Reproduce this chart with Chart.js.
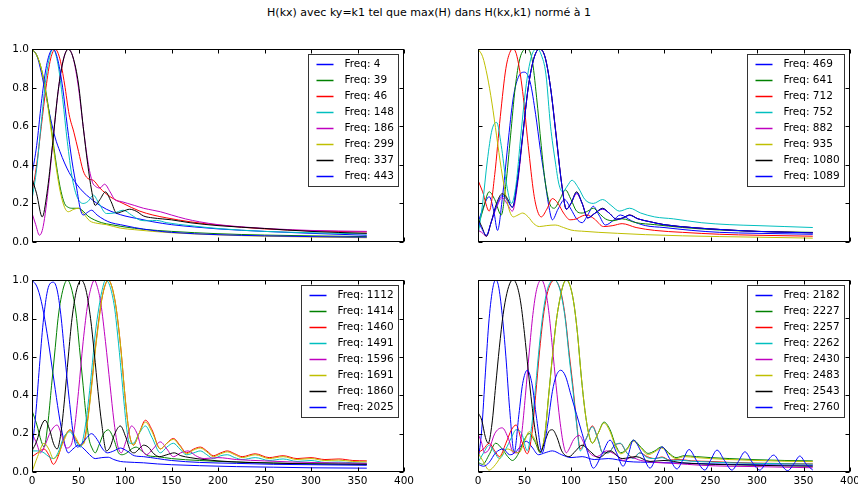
<!DOCTYPE html>
<html>
<head>
<meta charset="utf-8">
<script src="https://cdn.jsdelivr.net/npm/chart.js@4.4.1/dist/chart.umd.min.js"></script>
<style>
  body { margin: 0; width: 858px; height: 488px; overflow: hidden; background: #fff; position: relative; font-family: "DejaVu Sans", sans-serif; }
  canvas { position: absolute; }
  #title { position: absolute; left: 0; top: 6px; width: 858px; text-align: center; font-size: 11px; line-height: 13px; color: #000; }
</style>
</head>
<body>
<div id="title">H(kx) avec ky=k1 tel que max(H) dans H(kx,k1) normé à 1</div>
<canvas id="tl" width="412" height="222" style="left:0px;top:40px"></canvas>
<canvas id="tr" width="390" height="222" style="left:470px;top:40px"></canvas>
<canvas id="bl" width="418" height="222" style="left:0px;top:271px"></canvas>
<canvas id="br" width="395" height="222" style="left:470px;top:271px"></canvas>
<script>
// matplotlib classic colour cycle b g r c m y k b
const lineColors = ['#0000ff', '#008000', '#ff0000', '#00bfbf', '#bf00bf', '#bfbf00', '#000000', '#0000ff']
const xTicks = [0, 50, 100, 150, 200, 250, 300, 350, 400]
const yTicks = [0, 0.2, 0.4, 0.6, 0.8, 1.0]

// top left
const tlFreqs = [4, 39, 46, 148, 186, 299, 337, 443]
const tl4x = [0, 5, 10, 15, 20, 25, 30, 35, 40, 48, 55, 62, 70, 80, 90, 100, 115, 130, 150, 175, 200, 250, 300, 360]
const tl4y = [1.0, 0.97, 0.88, 0.76, 0.64, 0.54, 0.47, 0.41, 0.36, 0.30, 0.26, 0.23, 0.20, 0.17, 0.15, 0.135, 0.12, 0.105, 0.09, 0.078, 0.068, 0.055, 0.045, 0.035]
const tl39x = [0, 5, 10, 15, 20, 25, 30, 35, 39, 44, 50, 55, 60, 67, 75, 85, 100, 120, 150, 200, 250, 300, 360]
const tl39y = [1.0, 0.97, 0.9, 0.78, 0.62, 0.44, 0.29, 0.2, 0.18, 0.175, 0.175, 0.16, 0.135, 0.115, 0.1, 0.09, 0.078, 0.066, 0.055, 0.043, 0.036, 0.032, 0.028]
const tl46x = [0, 5, 10, 15, 20, 25, 30, 35, 40, 45, 50, 55, 60, 66, 73, 84, 98, 116, 130, 145, 170, 200, 250, 300, 360]
const tl46y = [0.25, 0.4, 0.6, 0.8, 0.95, 1.0, 0.95, 0.82, 0.66, 0.57, 0.47, 0.37, 0.33, 0.32, 0.28, 0.235, 0.2, 0.16, 0.14, 0.125, 0.105, 0.088, 0.068, 0.058, 0.052]
const tl148x = [0, 5, 10, 15, 20, 23, 28, 33, 38, 43, 48, 55, 60, 66, 72, 80, 88, 98, 107, 116, 125, 134, 145, 170, 200, 250, 300, 360]
const tl148y = [0.22, 0.38, 0.62, 0.85, 0.98, 1.0, 0.92, 0.74, 0.52, 0.34, 0.24, 0.2, 0.21, 0.243, 0.2, 0.148, 0.15, 0.165, 0.14, 0.114, 0.11, 0.112, 0.1, 0.085, 0.07, 0.055, 0.048, 0.042]
const tl186x = [0, 4, 8, 12, 18, 24, 30, 35, 39, 44, 50, 55, 60, 65, 68, 73, 78, 84, 89, 96, 103, 110, 120, 130, 138, 150, 165, 180, 200, 230, 260, 300, 360]
const tl186y = [0.15, 0.09, 0.035, 0.08, 0.3, 0.6, 0.85, 0.97, 1.0, 0.96, 0.8, 0.6, 0.42, 0.31, 0.29, 0.28, 0.3, 0.26, 0.22, 0.21, 0.2, 0.19, 0.175, 0.165, 0.157, 0.14, 0.12, 0.105, 0.09, 0.077, 0.068, 0.06, 0.055]
const tl299x = [0, 5, 10, 15, 20, 25, 30, 35, 39, 45, 50, 55, 62, 70, 80, 95, 110, 130, 150, 200, 250, 300, 360]
const tl299y = [1.0, 0.97, 0.9, 0.77, 0.6, 0.42, 0.27, 0.18, 0.157, 0.17, 0.175, 0.15, 0.11, 0.097, 0.09, 0.072, 0.064, 0.055, 0.048, 0.037, 0.03, 0.026, 0.022]
const tl337x = [0, 5, 11, 16, 22, 28, 34, 39, 44, 50, 55, 60, 64, 68, 73, 79, 85, 91, 98, 105, 112, 120, 130, 140, 150, 170, 200, 250, 300, 360]
const tl337y = [0.33, 0.25, 0.13, 0.25, 0.5, 0.78, 0.95, 1.0, 0.96, 0.82, 0.6, 0.4, 0.27, 0.19, 0.22, 0.26, 0.21, 0.15, 0.16, 0.17, 0.16, 0.135, 0.125, 0.12, 0.115, 0.1, 0.085, 0.07, 0.055, 0.045]
const tl443x = [0, 5, 10, 15, 20, 23, 28, 33, 38, 43, 48, 52, 55, 60, 64, 70, 78, 85, 95, 110, 130, 150, 200, 250, 300, 360]
const tl443y = [0.35, 0.5, 0.72, 0.9, 0.99, 1.0, 0.94, 0.8, 0.6, 0.42, 0.28, 0.17, 0.14, 0.155, 0.165, 0.14, 0.115, 0.1, 0.09, 0.075, 0.06, 0.05, 0.038, 0.032, 0.028, 0.025]

// top right
const trFreqs = [469, 641, 712, 752, 882, 935, 1080, 1089]
const tr469x = [0, 5, 12, 17, 21, 26, 32, 38, 44, 50, 56, 62, 67, 72, 76, 80, 86, 93, 100, 106, 112, 118, 124, 130, 137, 145, 153, 165, 180, 200, 230, 260, 300, 360]
const tr469y = [0.1, 0.17, 0.235, 0.16, 0.06, 0.22, 0.5, 0.75, 0.86, 0.88, 0.83, 0.66, 0.48, 0.32, 0.19, 0.115, 0.17, 0.22, 0.17, 0.12, 0.1, 0.14, 0.185, 0.14, 0.088, 0.11, 0.14, 0.11, 0.085, 0.075, 0.06, 0.05, 0.045, 0.04]
const tr641x = [0, 5, 12, 18, 25, 30, 35, 40, 45, 52, 58, 63, 68, 72, 77, 82, 88, 94, 100, 106, 112, 118, 124, 130, 137, 145, 155, 170, 190, 220, 260, 300, 360]
const tr641y = [0.08, 0.16, 0.26, 0.22, 0.14, 0.3, 0.55, 0.8, 0.95, 1.0, 0.95, 0.75, 0.5, 0.32, 0.2, 0.175, 0.22, 0.27, 0.22, 0.16, 0.15, 0.16, 0.175, 0.15, 0.12, 0.11, 0.12, 0.1, 0.09, 0.075, 0.062, 0.055, 0.05]
const tr712x = [0, 5, 12, 18, 24, 30, 35, 38, 42, 48, 54, 60, 64, 68, 74, 80, 86, 92, 99, 106, 112, 117, 125, 135, 145, 155, 170, 190, 220, 260, 300, 360]
const tr712y = [0.32, 0.26, 0.16, 0.35, 0.65, 0.9, 0.99, 1.0, 0.96, 0.78, 0.5, 0.25, 0.16, 0.13, 0.17, 0.225, 0.2, 0.15, 0.115, 0.12, 0.135, 0.14, 0.12, 0.08, 0.085, 0.095, 0.075, 0.06, 0.05, 0.04, 0.035, 0.03]
const tr752x = [0, 5, 10, 15, 20, 25, 30, 36, 41, 46, 52, 58, 64, 68, 73, 78, 83, 87, 91, 96, 101, 108, 115, 124, 134, 143, 152, 163, 175, 190, 210, 240, 270, 300, 330, 360]
const tr752y = [0.03, 0.2, 0.42, 0.58, 0.62, 0.5, 0.32, 0.2, 0.3, 0.55, 0.82, 0.97, 1.0, 0.97, 0.87, 0.6, 0.42, 0.3, 0.26, 0.29, 0.32, 0.28, 0.22, 0.2, 0.22, 0.19, 0.16, 0.175, 0.15, 0.13, 0.12, 0.1, 0.09, 0.085, 0.08, 0.075]
const tr882x = [0, 4, 9, 14, 20, 26, 31, 37, 42, 48, 54, 60, 66, 72, 78, 84, 90, 95, 100, 106, 112, 118, 126, 134, 141, 149, 156, 163, 172, 185, 200, 230, 260, 300, 360]
const tr882y = [0.06, 0.05, 0.03, 0.1, 0.18, 0.23, 0.2, 0.16, 0.28, 0.54, 0.8, 0.95, 1.0, 0.96, 0.8, 0.56, 0.3, 0.17, 0.2, 0.25, 0.2, 0.125, 0.15, 0.17, 0.15, 0.118, 0.125, 0.14, 0.12, 0.105, 0.09, 0.075, 0.065, 0.055, 0.048]
const tr935x = [0, 5, 10, 15, 20, 25, 30, 34, 38, 43, 48, 54, 60, 66, 74, 83, 92, 100, 115, 130, 150, 180, 220, 260, 300, 360]
const tr935y = [1.0, 0.96, 0.86, 0.72, 0.55, 0.38, 0.24, 0.16, 0.13, 0.14, 0.15, 0.13, 0.095, 0.08, 0.085, 0.088, 0.075, 0.062, 0.055, 0.05, 0.045, 0.038, 0.032, 0.028, 0.025, 0.02]
const tr1080x = [0, 4, 9, 14, 20, 26, 31, 37, 42, 48, 54, 60, 66, 72, 78, 84, 90, 95, 100, 106, 112, 118, 126, 134, 141, 149, 156, 163, 172, 185, 200, 230, 260, 300, 360]
const tr1080y = [0.12, 0.08, 0.03, 0.1, 0.2, 0.25, 0.23, 0.18, 0.3, 0.55, 0.8, 0.95, 1.0, 0.96, 0.8, 0.55, 0.3, 0.17, 0.2, 0.26, 0.2, 0.125, 0.15, 0.175, 0.15, 0.118, 0.125, 0.14, 0.12, 0.105, 0.09, 0.075, 0.065, 0.055, 0.048]
const tr1089x = [0, 4, 9, 14, 20, 26, 31, 37, 42, 48, 54, 60, 66, 72, 78, 84, 90, 95, 100, 106, 112, 118, 126, 134, 141, 149, 156, 163, 172, 185, 200, 230, 260, 300, 360]
const tr1089y = [0.11, 0.07, 0.035, 0.1, 0.19, 0.24, 0.22, 0.18, 0.3, 0.55, 0.8, 0.95, 1.0, 0.96, 0.8, 0.55, 0.3, 0.17, 0.2, 0.255, 0.2, 0.125, 0.15, 0.172, 0.15, 0.118, 0.125, 0.138, 0.12, 0.105, 0.09, 0.075, 0.065, 0.055, 0.047]

// bottom left
const blFreqs = [1112, 1414, 1460, 1491, 1596, 1691, 1860, 2025]
const bl1112x = [0, 5, 10, 15, 20, 25, 30, 35, 39, 44, 50, 56, 62, 68, 75, 82, 88, 95, 102, 110, 120, 135, 150, 180, 220, 260, 300, 360]
const bl1112y = [1.0, 0.97, 0.89, 0.76, 0.6, 0.43, 0.27, 0.15, 0.1, 0.12, 0.14, 0.12, 0.09, 0.07, 0.075, 0.077, 0.065, 0.055, 0.052, 0.05, 0.048, 0.042, 0.038, 0.033, 0.028, 0.025, 0.022, 0.02]
const bl1414x = [0, 5, 10, 13, 17, 21, 25, 28, 31, 35, 38, 41, 45, 48, 51, 55, 58, 61, 65, 68, 72, 77, 82, 88, 93, 97, 102, 107, 112, 118, 125, 135, 150, 180, 220, 260, 300, 360]
const bl1414y = [0.32, 0.25, 0.16, 0.13, 0.25, 0.45, 0.65, 0.8, 0.9, 0.98, 1.0, 0.98, 0.9, 0.8, 0.65, 0.45, 0.3, 0.18, 0.12, 0.1, 0.14, 0.2, 0.22, 0.17, 0.1, 0.09, 0.1, 0.12, 0.13, 0.11, 0.085, 0.08, 0.07, 0.06, 0.052, 0.047, 0.043, 0.04]
const bl1460x = [0, 6, 13, 18, 23, 28, 34, 41, 47, 52, 56, 60, 64, 68, 72, 75, 79, 82, 85, 89, 92, 96, 99, 102, 105, 109, 115, 122, 129, 138, 145, 152, 159, 166, 174, 181, 188, 195, 203, 210, 218, 226, 240, 255, 270, 285, 300, 315, 330, 345, 360]
const bl1460y = [0.08, 0.1, 0.12, 0.09, 0.04, 0.08, 0.17, 0.22, 0.17, 0.14, 0.16, 0.28, 0.45, 0.64, 0.8, 0.9, 0.98, 1.0, 0.98, 0.9, 0.8, 0.62, 0.45, 0.3, 0.19, 0.14, 0.2, 0.27, 0.22, 0.12, 0.15, 0.175, 0.14, 0.1, 0.12, 0.13, 0.11, 0.085, 0.1, 0.11, 0.095, 0.08, 0.095, 0.075, 0.085, 0.07, 0.075, 0.065, 0.068, 0.06, 0.058]
const bl1491x = [0, 6, 13, 18, 23, 28, 34, 41, 47, 52, 56, 60, 64, 68, 72, 75, 79, 82, 85, 89, 92, 96, 99, 102, 105, 109, 115, 122, 129, 138, 145, 152, 159, 166, 174, 181, 188, 195, 203, 210, 218, 226, 240, 255, 270, 285, 300, 315, 330, 345, 360]
const bl1491y = [0.11, 0.11, 0.1, 0.08, 0.07, 0.1, 0.18, 0.21, 0.16, 0.13, 0.2, 0.34, 0.52, 0.72, 0.86, 0.94, 1.0, 0.99, 0.95, 0.85, 0.72, 0.52, 0.36, 0.22, 0.15, 0.15, 0.2, 0.24, 0.18, 0.1, 0.13, 0.15, 0.12, 0.09, 0.1, 0.11, 0.09, 0.07, 0.085, 0.09, 0.075, 0.065, 0.075, 0.06, 0.068, 0.055, 0.06, 0.05, 0.052, 0.048, 0.046]
const bl1596x = [0, 5, 9, 14, 20, 27, 32, 37, 42, 46, 50, 55, 60, 64, 67, 70, 74, 79, 84, 88, 92, 96, 101, 107, 113, 118, 123, 130, 138, 145, 152, 160, 168, 176, 185, 200, 220, 250, 280, 320, 360]
const bl1596y = [0.2, 0.15, 0.1, 0.14, 0.21, 0.245, 0.19, 0.125, 0.14, 0.24, 0.42, 0.68, 0.88, 0.97, 1.0, 0.97, 0.88, 0.68, 0.45, 0.27, 0.14, 0.1, 0.16, 0.24, 0.2, 0.12, 0.09, 0.12, 0.157, 0.12, 0.08, 0.1, 0.11, 0.085, 0.07, 0.075, 0.065, 0.058, 0.052, 0.048, 0.045]
const bl1691x = [0, 6, 13, 18, 23, 28, 34, 41, 47, 52, 56, 60, 64, 68, 72, 75, 79, 82, 85, 89, 92, 96, 99, 102, 105, 109, 115, 122, 129, 138, 145, 152, 159, 166, 174, 181, 188, 195, 203, 210, 218, 226, 240, 255, 270, 285, 300, 315, 330, 345, 360]
const bl1691y = [0.0, 0.08, 0.15, 0.12, 0.07, 0.09, 0.16, 0.22, 0.18, 0.14, 0.15, 0.27, 0.44, 0.63, 0.79, 0.9, 0.98, 1.0, 0.98, 0.9, 0.8, 0.62, 0.45, 0.3, 0.19, 0.14, 0.2, 0.26, 0.21, 0.12, 0.15, 0.17, 0.135, 0.095, 0.115, 0.125, 0.105, 0.08, 0.095, 0.105, 0.09, 0.075, 0.09, 0.07, 0.08, 0.065, 0.07, 0.06, 0.062, 0.055, 0.053]
const bl1860x = [0, 5, 10, 14, 19, 23, 27, 31, 35, 39, 43, 48, 53, 58, 63, 67, 71, 75, 80, 84, 89, 95, 101, 106, 110, 115, 120, 125, 131, 137, 145, 153, 160, 170, 185, 200, 230, 260, 300, 360]
const bl1860y = [0.11, 0.16, 0.24, 0.27, 0.22, 0.15, 0.12, 0.2, 0.38, 0.6, 0.8, 0.95, 1.0, 0.95, 0.8, 0.62, 0.42, 0.25, 0.11, 0.13, 0.2, 0.24, 0.18, 0.11, 0.1, 0.12, 0.14, 0.13, 0.095, 0.08, 0.09, 0.1, 0.085, 0.075, 0.065, 0.058, 0.05, 0.046, 0.042, 0.04]
const bl2025x = [0, 4, 8, 12, 16, 19, 23, 27, 31, 35, 40, 45, 49, 54, 59, 64, 70, 76, 81, 88, 95, 102, 110, 120, 135, 150, 180, 220, 260, 300, 360]
const bl2025y = [0.12, 0.3, 0.55, 0.78, 0.93, 0.98, 0.99, 0.95, 0.82, 0.62, 0.38, 0.18, 0.13, 0.15, 0.18, 0.2, 0.17, 0.12, 0.1, 0.11, 0.125, 0.11, 0.085, 0.08, 0.07, 0.06, 0.05, 0.045, 0.04, 0.038, 0.035]

// bottom right
const brFreqs = [2182, 2227, 2257, 2262, 2430, 2483, 2543, 2760]
const br2182x = [0, 4, 8, 12, 16, 19, 22, 26, 30, 34, 39, 45, 52, 58, 65, 72, 80, 90, 100, 112, 125, 140, 160, 190, 230, 270, 310, 360]
const br2182y = [0.05, 0.22, 0.52, 0.8, 0.96, 1.0, 0.97, 0.82, 0.6, 0.33, 0.1, 0.13, 0.16, 0.13, 0.09, 0.1, 0.11, 0.09, 0.075, 0.08, 0.065, 0.07, 0.055, 0.05, 0.045, 0.04, 0.037, 0.035]
const br2227x = [0, 5, 12, 19, 26, 32, 37, 44, 50, 55, 61, 67, 72, 76, 80, 84, 88, 92, 95, 99, 103, 107, 111, 115, 119, 123, 129, 135.5, 142, 148, 153.5, 160, 167, 175, 183, 190, 197.5, 205, 213, 222, 235, 250, 270, 300, 330, 360]
const br2227y = [0.05, 0.04, 0.09, 0.15, 0.12, 0.08, 0.06, 0.1, 0.17, 0.2, 0.16, 0.1, 0.2, 0.4, 0.6, 0.78, 0.9, 0.98, 1.0, 0.97, 0.88, 0.72, 0.5, 0.32, 0.2, 0.15, 0.2, 0.26, 0.22, 0.14, 0.1, 0.12, 0.166, 0.13, 0.097, 0.11, 0.131, 0.1, 0.075, 0.085, 0.08, 0.075, 0.07, 0.064, 0.06, 0.058]
const br2257x = [0, 6, 12, 18, 23, 30, 36, 41, 47, 53, 58, 62, 66, 70, 74, 78, 82, 86, 90, 94, 98, 102, 106, 110, 116, 123, 129, 134, 140, 147, 153, 160, 167, 174, 182, 190, 198, 206, 215, 230, 250, 270, 300, 330, 360]
const br2257y = [0.1, 0.12, 0.15, 0.11, 0.08, 0.15, 0.22, 0.245, 0.16, 0.095, 0.2, 0.4, 0.62, 0.8, 0.92, 0.98, 1.0, 0.98, 0.92, 0.8, 0.62, 0.45, 0.26, 0.12, 0.17, 0.24, 0.17, 0.1, 0.1, 0.14, 0.148, 0.1, 0.075, 0.1, 0.08, 0.07, 0.078, 0.062, 0.065, 0.058, 0.055, 0.05, 0.046, 0.044, 0.042]
const br2262x = [0, 6, 12, 18, 23, 30, 36, 41, 47, 53, 58, 62, 66, 70, 74, 78, 82, 86, 90, 94, 98, 102, 106, 110, 116, 123, 129, 134, 140, 147, 153, 160, 167, 174, 182, 190, 198, 206, 215, 230, 250, 270, 300, 330, 360]
const br2262y = [0.05, 0.1, 0.14, 0.1, 0.07, 0.12, 0.18, 0.22, 0.2, 0.11, 0.25, 0.45, 0.66, 0.83, 0.94, 0.99, 1.0, 0.98, 0.91, 0.79, 0.6, 0.43, 0.25, 0.11, 0.17, 0.235, 0.17, 0.1, 0.1, 0.14, 0.15, 0.1, 0.07, 0.1, 0.075, 0.07, 0.075, 0.06, 0.062, 0.056, 0.052, 0.048, 0.045, 0.043, 0.041]
const br2430x = [0, 4, 7, 12, 18, 26, 33, 38, 43, 47, 51, 55, 59, 63, 68, 72, 76, 80, 84, 88, 92, 95, 98, 103, 109, 114, 120, 128, 138, 148, 156, 165, 175, 190, 210, 240, 270, 300, 330, 360]
const br2430y = [0.2, 0.15, 0.1, 0.12, 0.2, 0.23, 0.17, 0.1, 0.1, 0.2, 0.4, 0.62, 0.82, 0.95, 1.0, 0.96, 0.84, 0.65, 0.45, 0.27, 0.14, 0.1, 0.12, 0.17, 0.19, 0.15, 0.1, 0.08, 0.11, 0.09, 0.06, 0.075, 0.06, 0.05, 0.045, 0.035, 0.03, 0.028, 0.025, 0.022]
const br2483x = [0, 5, 12, 19, 26, 32, 37, 44, 50, 55, 61, 67, 72, 76, 80, 84, 88, 92, 95, 99, 103, 107, 111, 115, 119, 123, 129, 135.5, 142, 148, 153.5, 160, 167, 175, 183, 190, 197.5, 205, 213, 222, 235, 250, 270, 300, 330, 360]
const br2483y = [0.1, 0.06, 0.01, 0.04, 0.09, 0.12, 0.11, 0.1, 0.16, 0.21, 0.17, 0.105, 0.2, 0.4, 0.6, 0.78, 0.9, 0.98, 1.0, 0.97, 0.88, 0.72, 0.5, 0.32, 0.2, 0.15, 0.2, 0.255, 0.21, 0.13, 0.095, 0.115, 0.16, 0.125, 0.09, 0.105, 0.125, 0.095, 0.07, 0.08, 0.075, 0.07, 0.065, 0.06, 0.056, 0.054]
const br2543x = [0, 4, 8, 11, 15, 19, 23, 27, 31, 35, 38, 42, 46, 50, 54, 58, 62, 67, 72, 76, 80, 85, 90, 98, 105, 112, 120, 130, 142, 155, 170, 185, 200, 220, 240, 270, 300, 330, 360]
const br2543y = [0.31, 0.27, 0.18, 0.15, 0.25, 0.45, 0.65, 0.82, 0.93, 0.99, 1.0, 0.97, 0.88, 0.72, 0.53, 0.35, 0.2, 0.105, 0.16, 0.21, 0.22, 0.18, 0.11, 0.08, 0.11, 0.14, 0.11, 0.075, 0.11, 0.07, 0.08, 0.055, 0.06, 0.048, 0.042, 0.038, 0.035, 0.032, 0.03]
const br2760x = [0, 6, 12, 19, 27, 34, 39, 44, 48, 53, 58, 63, 69, 75, 80, 84, 89, 94, 100, 106, 112, 118, 124, 133, 142, 149, 156, 161, 167, 176, 185, 191, 198, 206, 214, 220, 227, 235, 244, 250, 257, 265, 273, 280, 287, 295, 303, 310, 318, 325, 333, 340, 346, 353, 360]
const br2760y = [0.04, 0.03, 0.05, 0.1, 0.12, 0.09, 0.1, 0.3, 0.46, 0.53, 0.46, 0.28, 0.1, 0.25, 0.42, 0.5, 0.53, 0.5, 0.4, 0.3, 0.2, 0.1, 0.02, 0.09, 0.166, 0.1, 0.03, 0.08, 0.166, 0.1, 0.02, 0.07, 0.131, 0.07, 0.016, 0.06, 0.117, 0.06, 0.01, 0.06, 0.114, 0.06, 0.01, 0.055, 0.105, 0.05, 0.01, 0.05, 0.088, 0.045, 0.007, 0.045, 0.083, 0.04, 0.01]

const panels = [
  {id: 'tl', freqs: tlFreqs, xs: [tl4x, tl39x, tl46x, tl148x, tl186x, tl299x, tl337x, tl443x],
   ys: [tl4y, tl39y, tl46y, tl148y, tl186y, tl299y, tl337y, tl443y],
   yLabels: true, xLabels: false, yWidth: 32, xHeight: 20, padTop: 9, padRight: 8},
  {id: 'tr', freqs: trFreqs, xs: [tr469x, tr641x, tr712x, tr752x, tr882x, tr935x, tr1080x, tr1089x],
   ys: [tr469y, tr641y, tr712y, tr752y, tr882y, tr935y, tr1080y, tr1089y],
   yLabels: false, xLabels: false, yWidth: 8, xHeight: 20, padTop: 9, padRight: 10},
  {id: 'bl', freqs: blFreqs, xs: [bl1112x, bl1414x, bl1460x, bl1491x, bl1596x, bl1691x, bl1860x, bl2025x],
   ys: [bl1112y, bl1414y, bl1460y, bl1491y, bl1596y, bl1691y, bl1860y, bl2025y],
   yLabels: true, xLabels: true, yWidth: 32, xHeight: 21, padTop: 9, padRight: 14},
  {id: 'br', freqs: brFreqs, xs: [br2182x, br2227x, br2257x, br2262x, br2430x, br2483x, br2543x, br2760x],
   ys: [br2182y, br2227y, br2257y, br2262y, br2430y, br2483y, br2543y, br2760y],
   yLabels: false, xLabels: true, yWidth: 8, xHeight: 21, padTop: 9, padRight: 15}
]

const FONT = {family: "'DejaVu Sans', sans-serif", size: 10.5}

// frame, inward ticks on all four sides, and a matplotlib style legend box
const mplDecor = {
  id: 'mplDecor',
  afterDraw(chart) {
    const ctx = chart.ctx
    const a = chart.chartArea
    const xs = chart.scales.x, ys = chart.scales.y
    const L = Math.round(a.left) + 0.5, R = Math.round(a.right) - 0.5
    const T = Math.round(a.top) + 0.5, B = Math.round(a.bottom) - 0.5
    ctx.save()
    ctx.strokeStyle = '#000'
    ctx.lineWidth = 1
    ctx.strokeRect(L, T, R - L, B - T)
    ctx.beginPath()
    xTicks.forEach(v => {
      const px = Math.round(xs.getPixelForValue(v)) + 0.5
      ctx.moveTo(px, B); ctx.lineTo(px, B - 4)
      ctx.moveTo(px, T); ctx.lineTo(px, T + 4)
    })
    yTicks.forEach(v => {
      const py = Math.round(ys.getPixelForValue(v)) + 0.5
      ctx.moveTo(L, py); ctx.lineTo(L + 4, py)
      ctx.moveTo(R, py); ctx.lineTo(R - 4, py)
    })
    ctx.stroke()

    // legend
    ctx.font = FONT.size + 'px ' + FONT.family
    const sets = chart.data.datasets
    let maxW = 0
    sets.forEach(d => { maxW = Math.max(maxW, ctx.measureText(d.label).width) })
    const boxW = Math.round(36 + maxW + 5)
    const boxH = 9 + 16 * (sets.length - 1) + 11
    const bx = Math.round(a.right) - 6 - boxW + 0.5
    const by = Math.round(a.top) + 5 + 0.5
    ctx.fillStyle = '#fff'
    ctx.fillRect(bx, by, boxW, boxH)
    ctx.strokeStyle = '#333'
    ctx.strokeRect(bx, by, boxW, boxH)
    ctx.textBaseline = 'middle'
    ctx.textAlign = 'left'
    sets.forEach((d, i) => {
      const cy = Math.round(by + 9 + i * 16) + 0.5
      ctx.strokeStyle = d.borderColor
      ctx.lineWidth = 1.5
      ctx.beginPath()
      ctx.moveTo(bx + 8, cy); ctx.lineTo(bx + 25, cy)
      ctx.stroke()
      ctx.fillStyle = '#000'
      ctx.fillText(d.label, bx + 36, cy)
    })
    ctx.restore()
  }
}

panels.forEach(p => {
  const datasets = p.freqs.map((f, i) => ({
    label: 'Freq: ' + f,
    data: p.xs[i].map((x, k) => ({x: x, y: p.ys[i][k]})),
    borderColor: lineColors[i],
    borderWidth: 1,
    pointRadius: 0,
    fill: false,
    cubicInterpolationMode: 'monotone',
    order: 8 - i
  }))

  new Chart(document.getElementById(p.id), {
    type: 'line',
    data: {datasets},
    options: {
      responsive: false,
      animation: false,
      layout: {padding: {top: p.padTop, right: p.padRight, left: 0, bottom: 0}},
      plugins: {legend: {display: false}, tooltip: {enabled: false}},
      scales: {
        x: {
          type: 'linear', min: 0, max: 400,
          grid: {display: false, drawTicks: false}, border: {display: false},
          ticks: {display: p.xLabels, stepSize: 50, autoSkip: false, maxRotation: 0, padding: 3, color: '#000', font: FONT},
          afterFit: s => { s.height = p.xHeight }
        },
        y: {
          type: 'linear', min: 0, max: 1,
          grid: {display: false, drawTicks: false}, border: {display: false},
          ticks: {display: p.yLabels, stepSize: 0.2, padding: 3, color: '#000', font: FONT, callback: v => v.toFixed(1)},
          afterFit: s => { s.width = p.yWidth }
        }
      }
    },
    plugins: [mplDecor]
  })
})
</script>
</body>
</html>
